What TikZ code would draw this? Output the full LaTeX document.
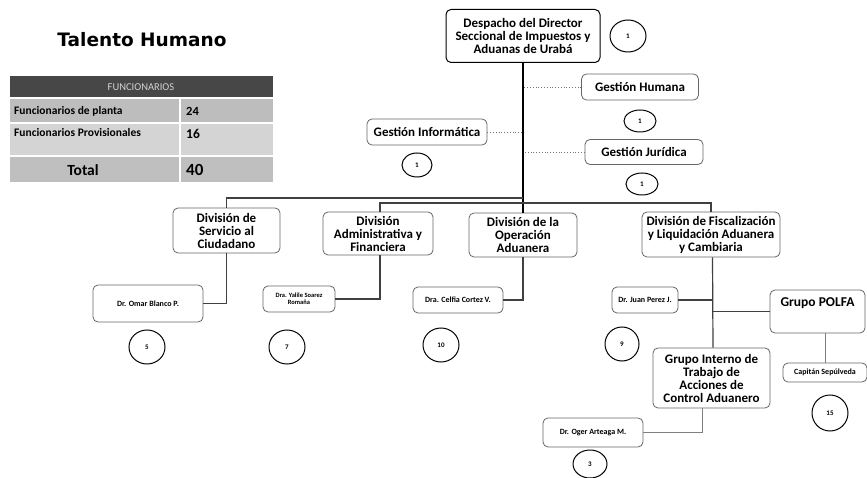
\documentclass[tikz,border=0pt]{standalone}
\usepackage{fontspec}
\setmainfont{Carlito}
\newfontfamily\titlefont{DejaVu Sans}
\usetikzlibrary{shapes.geometric}
\newcommand\myfs[2]{\fontsize{#1}{#2}\selectfont}
\tikzset{
  box/.style={draw=black!60, line width=0.8pt, rounded corners=5pt, fill=white,
    align=center, inner sep=1pt, font=\bfseries\myfs{13}{13}},
  namebox/.style={box, font=\bfseries\myfs{8}{8.5}},
  num/.style={ellipse, draw=black, line width=1pt, inner sep=0pt, fill=white,
    font=\bfseries\myfs{7}{7}},
  trunk/.style={draw=black, line width=1.6pt},
  link/.style={draw=black!75, line width=1.2pt},
  thinlink/.style={draw=black!50, line width=0.8pt},
  dotlink/.style={draw=black!55, line width=0.8pt, dotted},
  cell/.style={inner sep=0pt, anchor=west, font=\bfseries\myfs{12.5}{13}},
}
\begin{document}
\begin{tikzpicture}[x=1pt,y=-1pt]
\useasboundingbox[fill=white] (0,0) rectangle (867,478);

% ---------- title and table ----------
\node[font=\titlefont\bfseries\myfs{18.5}{20}] (title) at (142,40) {Talento Humano};

\fill[black!72] (10,76) rectangle (273,97);
\fill[black!26] (10,99) rectangle (179,122);
\fill[black!26] (181,99) rectangle (273,122);
\fill[black!17] (10,124) rectangle (179,155);
\fill[black!17] (181,124) rectangle (273,155);
\fill[black!25] (10,157) rectangle (179,182);
\fill[black!25] (181,157) rectangle (273,182);

\node[font=\myfs{10.5}{11}, text=black!18] (thead) at (141,87) {FUNCIONARIOS};
\node[cell, font=\bfseries\myfs{11.5}{12}] (r1a) at (14,111) {Funcionarios de planta};
\node[cell, font=\bfseries\myfs{12.5}{13}] (r1b) at (186,111) {24};
\node[cell, font=\bfseries\myfs{11.5}{12}] (r2a) at (14,133) {Funcionarios Provisionales};
\node[cell, font=\bfseries\myfs{13.5}{14}] (r2b) at (186,134) {16};
\node[font=\bfseries\myfs{15.5}{16}, inner sep=0pt] (r3a) at (83,170) {Total};
\node[cell, font=\bfseries\myfs{17}{17}] (r3b) at (186,170) {40};

% ---------- top level ----------
\node[box, draw=black, line width=1pt, minimum width=154, minimum height=53] (desp) at (523,36)
  {Despacho del Director\\Seccional de Impuestos y\\Aduanas de Urabá};
\node[num, minimum width=36, minimum height=32] (c1) at (628,36) {1};

\node[box, minimum width=117, minimum height=26] (hum) at (640,87) {Gestión Humana};
\node[num, minimum width=32, minimum height=22] (chum) at (640,121) {1};
\node[box, minimum width=118, minimum height=25] (jur) at (644,152) {Gestión Jurídica};
\node[num, minimum width=32, minimum height=22] (cjur) at (642,184) {1};
\node[box, minimum width=120, minimum height=26] (inf) at (427,132) {Gestión Informática};
\node[num, minimum width=30, minimum height=24] (cinf) at (417,165) {1};

% ---------- divisions ----------
\node[box, minimum width=107, minimum height=45] (serv) at (226.5,230.5)
  {División de\\Servicio al\\Ciudadano};
\node[box, minimum width=110, minimum height=43] (adm) at (378,233.5)
  {División\\Administrativa y\\Financiera};
\node[box, minimum width=108, minimum height=44] (oper) at (523,235)
  {División de la\\Operación\\Aduanera};
\node[box, minimum width=138, minimum height=45] (fis) at (711,234.5)
  {División de Fiscalización\\y Liquidación Aduanera\\y Cambiaria};

% ---------- people ----------
\node[namebox, minimum width=110, minimum height=37] (omar) at (148,303.5) {Dr. Omar Blanco P.};
\node[num, minimum width=36, minimum height=34] (c5) at (147,347) {5};
\node[namebox, font=\bfseries\myfs{6.5}{7}, minimum width=72, minimum height=26] (yal) at (299,299)
  {Dra. Yalile Soarez\\Romaña};
\node[num, minimum width=36, minimum height=34] (c7) at (287,347) {7};
\node[namebox, minimum width=90, minimum height=26] (cel) at (458,300) {Dra. Celfia Cortez V.};
\node[num, minimum width=36, minimum height=34] (c10) at (441,345) {10};
\node[namebox, minimum width=66, minimum height=26] (juan) at (645,300) {Dr. Juan Perez J.};
\node[num, minimum width=34, minimum height=34] (c9) at (622,344) {9};

\node[box, font=\bfseries\myfs{13.5}{14}, minimum width=95, minimum height=43, text depth=18pt] (polfa) at (817.5,311.5)
  {Grupo POLFA};
\node[namebox, minimum width=84, minimum height=19] (cap) at (825,372.5) {Capitán Sepúlveda};
\node[num, minimum width=36, minimum height=36] (c15) at (830,413) {15};

\node[box, minimum width=117, minimum height=60] (gi) at (711.5,378)
  {Grupo Interno de\\Trabajo de\\Acciones de\\Control Aduanero};
\node[namebox, minimum width=100, minimum height=29] (oger) at (593,432.5) {Dr. Oger Arteaga M.};
\node[num, minimum width=34, minimum height=28] (c3) at (590,464) {3};

% ---------- connectors ----------
\coordinate (b1) at (523,198);
\coordinate (b2) at (711,203);
\draw[trunk] (desp.south) -- (oper.north);
\draw[dotlink] (hum.west) -- (hum.west -| desp.south);
\draw[dotlink] (jur.west) -- (jur.west -| desp.south);
\draw[dotlink] (inf.east) -- (inf.east -| desp.south);
\draw[link] (serv.north) |- (b1);
\draw[link] ([xshift=2pt]adm.north) |- (b2) -- (fis.north);
\draw[link] (serv.south) |- (omar.east);
\draw[link] ([xshift=2pt]adm.south) |- (yal.east);
\draw[link] (oper.south) |- (cel.east);
\draw[link] ([xshift=1.5pt]fis.south) -- ([xshift=1.5pt]gi.north);
\draw[link] (juan.east) -- (juan.east -| gi.north);
\draw[link] (polfa.west) -- (polfa.west -| gi.north);
\draw[thinlink] (cap.north) -- (cap.north |- polfa.south);
\draw[thinlink] ([xshift=-9pt]gi.south) |- (oger.east);
\end{tikzpicture}
\end{document}
